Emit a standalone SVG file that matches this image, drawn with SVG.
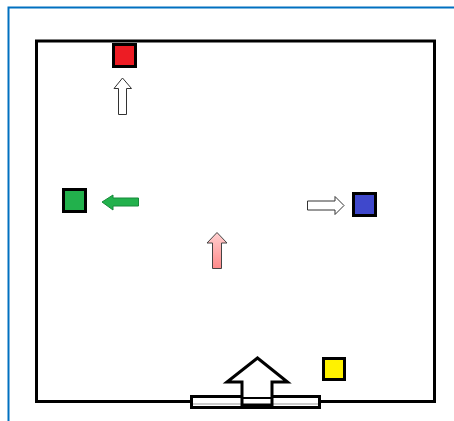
<svg xmlns="http://www.w3.org/2000/svg" width="454" height="421" viewBox="0 0 454 421">
  <defs>
    <linearGradient id="pinkGrad" x1="0" y1="0" x2="0" y2="1">
      <stop offset="0" stop-color="#ffd0d0"/>
      <stop offset="1" stop-color="#ff8a8a"/>
    </linearGradient>
    <style>
      .sq { stroke: #000; stroke-width: 3; }
      .outline { fill: #fff; stroke: #333; stroke-width: 1; }
    </style>
  </defs>
  <rect width="454" height="421" fill="#fff"/>
  <path d="M8.5 421 V7.5 H454" fill="none" stroke="#0070c0" stroke-width="2"/>
  <g id="room">
    <rect x="36.5" y="41" width="398" height="360.5" fill="#fff" stroke="#000" stroke-width="3"/>
  </g>
  <g id="red-node"><rect class="sq" x="113.5" y="44.5" width="22" height="22" fill="#ed1c24"/></g>
  <g id="green-node"><rect class="sq" x="63.5" y="189.5" width="22" height="22" fill="#22b14c"/></g>
  <g id="blue-node"><rect class="sq" x="353.5" y="193.5" width="22" height="22" fill="#3f48cc"/></g>
  <g id="yellow-node"><rect class="sq" x="323.5" y="358.5" width="21" height="21" fill="#fff200"/></g>
  <g id="door">
    <rect x="191.5" y="396.5" width="128" height="11" fill="#fff" stroke="#000" stroke-width="3"/>
    <line x1="193" y1="404" x2="318" y2="404" stroke="#999" stroke-width="1"/>
  </g>
  <g id="connectors">
    <polygon class="outline" points="122.5,78 131.5,88.5 126.5,88.5 126.5,114.5 118.5,114.5 118.5,88.5 114,88.5"/>
    <polygon points="102,202 113,195 113,198 138.5,198 138.5,206 113,206 113,210" fill="#22b14c" stroke="#178a3a" stroke-width="1"/>
    <polygon class="outline" points="344,205.5 335,196.5 335,201 307.5,201 307.5,210 335,210 335,214.5"/>
    <polygon points="217,232.5 227,243 221.5,243 221.5,268.5 212.5,268.5 212.5,243 207,243" fill="url(#pinkGrad)" stroke="#444" stroke-width="1"/>
    <polygon points="257.5,358 287.5,382 272,382 272,405 242,405 242,382 227,382" fill="#fff" stroke="#000" stroke-width="3" stroke-linejoin="miter"/>
    <line x1="242" y1="398" x2="272" y2="398" stroke="#000" stroke-width="2"/>
  </g>
</svg>
